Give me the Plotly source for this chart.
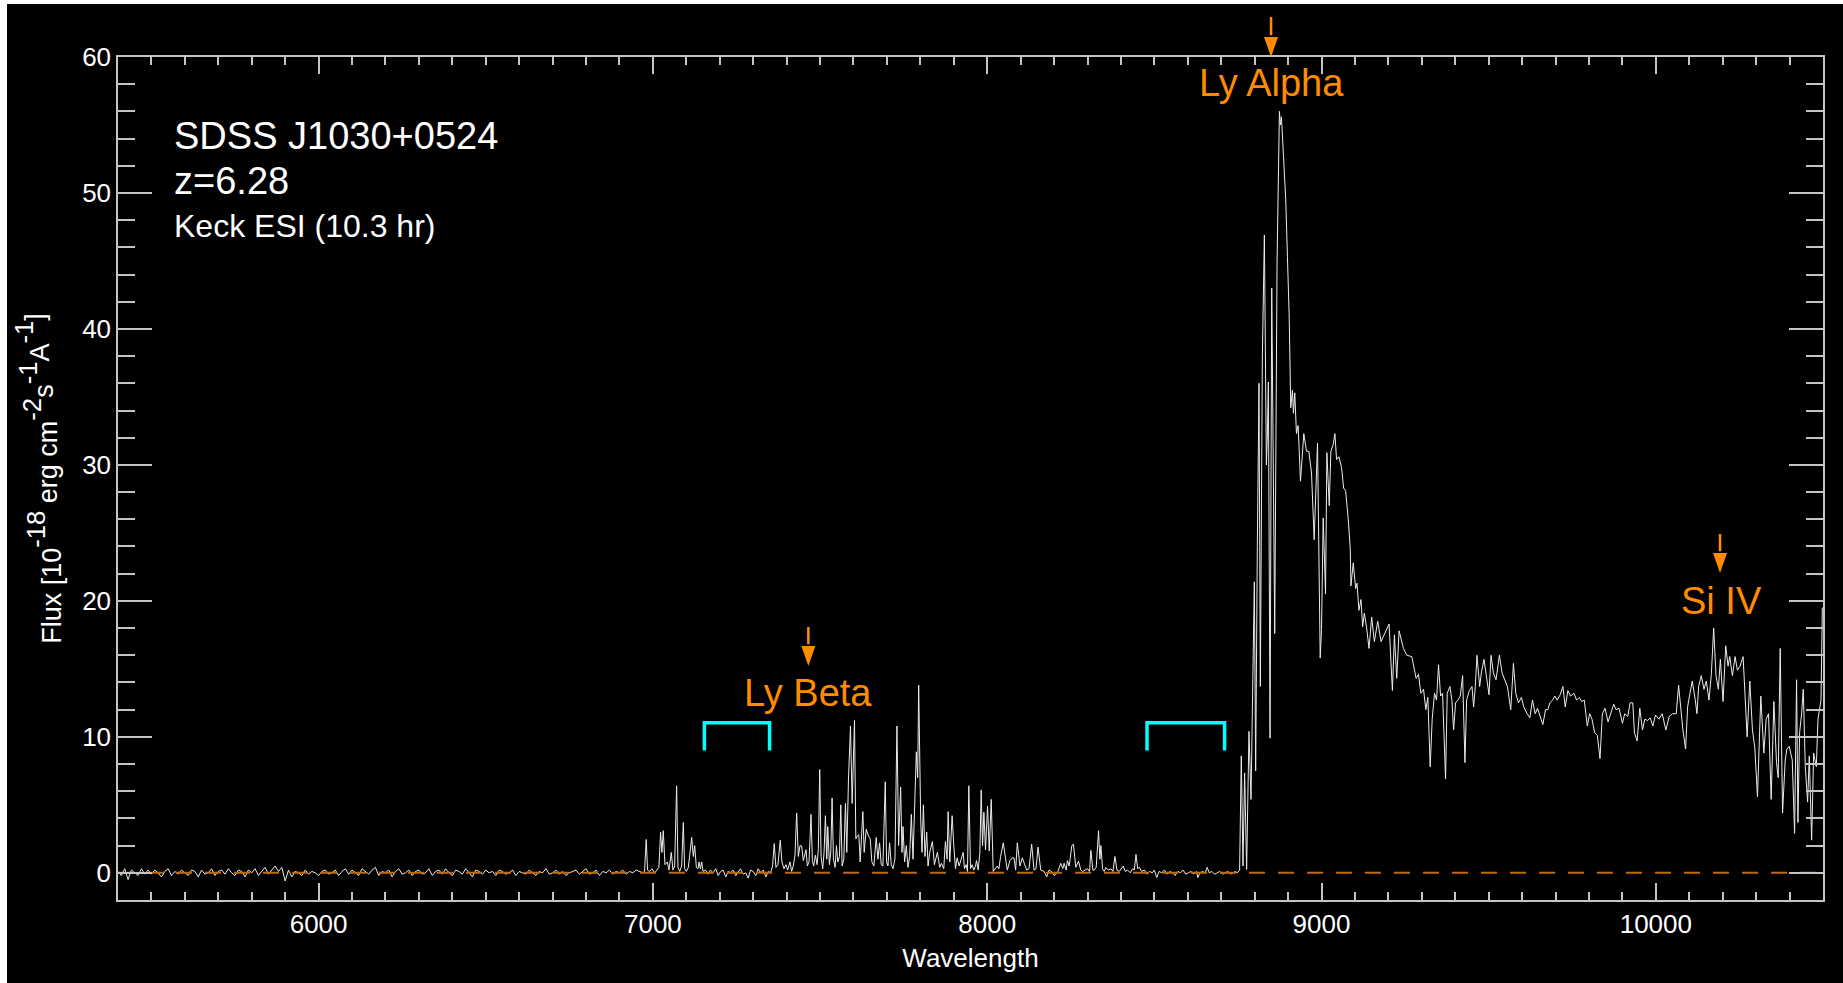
import plotly.graph_objects as go

# ---------------- data ----------------
# blue side (pure noise), 10 A sampling
blue_wave = list(range(5400, 6970, 10))
blue_flux = [
    0.1, -0.2, 0.3, -0.5, 0.2, 0.0, -0.2, 0.3, -0.1, 0.2,
    -0.1, 0.2, 0.0, -0.3, 0.1, 0.3, -0.2, 0.1, -0.1, 0.2,
    0.0, -0.2, 0.2, 0.1, -0.3, 0.2, -0.1, 0.0, 0.3, -0.2,
    0.1, 0.2, -0.1, 0.3, 0.0, -0.2, 0.2, 0.1, -0.3, 0.2,
    0.0, 0.3, -0.2, 0.1, 0.4, -0.1, 0.2, 0.5, 0.1, 0.4,
    -0.6, 0.2, -0.3, 0.1, 0.0, -0.2, 0.2, -0.1, 0.1, 0.0,
    -0.2, 0.1, 0.2, -0.1, 0.0, 0.2, -0.2, 0.1, 0.3, -0.1,
    0.2, 0.0, -0.2, 0.3, 0.1, -0.1, 0.2, 0.4, -0.2, 0.1,
    0.0, 0.2, -0.3, 0.1, 0.3, -0.1, 0.0, 0.2, -0.2, 0.1,
    0.2, -0.1, 0.0, 0.3, -0.2, 0.1, 0.2, -0.1, 0.3, 0.0,
    -0.2, 0.2, 0.1, -0.1, 0.3, 0.0, -0.3, 0.2, 0.1, -0.1,
    0.2, 0.0, 0.1, -0.2, 0.2, 0.1, -0.1, 0.0, 0.2, -0.2,
    0.1, 0.0, -0.1, 0.2, 0.0, -0.2, 0.1, 0.0, 0.3, -0.1,
    0.0, 0.2, -0.1, 0.1, -0.2, 0.0, 0.1, 0.2, -0.1, 0.1,
    0.3, -0.1, 0.0, 0.2, -0.2, 0.1, 0.0, 0.2, -0.1, 0.1,
    0.0, 0.2, -0.1, 0.1, 0.0, 0.2, 0.1,
]

# Lyman-beta / Lyman-alpha forest
forest_wave = [
    6970, 6975, 6980, 6984, 6990, 6997, 7005, 7012, 7018, 7023,
    7027, 7031, 7036, 7043, 7048, 7055, 7060, 7065, 7071, 7075,
    7080, 7086, 7091, 7095, 7100, 7106, 7112, 7116, 7121, 7125,
    7130, 7135, 7138, 7142, 7146, 7150, 7158, 7165, 7172, 7180,
    7188, 7195, 7203, 7210, 7218, 7225, 7232, 7240, 7248, 7255,
    7262, 7270, 7278, 7285, 7292, 7300, 7308, 7315, 7322, 7330,
    7338, 7345, 7352, 7358, 7363, 7368, 7374, 7381, 7386, 7392,
    7398, 7403, 7410, 7415, 7420, 7425, 7430, 7435, 7440, 7445,
    7450, 7458, 7462, 7467, 7473, 7477, 7481, 7486, 7491, 7495,
    7499, 7503, 7508, 7512, 7516, 7520, 7523, 7528, 7532, 7536,
    7540, 7545, 7549, 7553, 7558, 7562, 7566, 7571, 7576, 7580,
    7585, 7591, 7596, 7603, 7607, 7611, 7616, 7620, 7628, 7632,
    7638, 7645, 7650, 7655, 7661, 7668, 7673, 7678, 7683, 7688,
    7695, 7699, 7703, 7708, 7713, 7718, 7724, 7730, 7735, 7741,
    7745, 7748, 7753, 7758, 7763, 7768, 7773, 7778, 7783, 7788,
    7792, 7795, 7801, 7805, 7809, 7814, 7819, 7823, 7828, 7836,
    7842, 7851, 7858, 7863, 7870, 7875, 7880, 7883, 7888, 7895,
    7900, 7905, 7910, 7916, 7922, 7928, 7932, 7937, 7941, 7945,
    7950, 7955, 7960, 7965, 7968, 7973, 7978, 7982, 7986, 7990,
    7995, 8001, 8006, 8012, 8018, 8024, 8030, 8035, 8040, 8048,
    8055, 8060, 8068, 8075, 8080, 8085, 8090, 8098, 8105, 8112,
    8118, 8125, 8133, 8140, 8146, 8152, 8160, 8170, 8178, 8185,
    8192, 8200, 8210, 8220, 8226, 8230, 8236, 8240, 8245, 8248,
    8253, 8258, 8265, 8273, 8280, 8285, 8292, 8300, 8306, 8310,
    8316, 8320, 8326, 8333, 8337, 8340, 8345, 8350, 8355, 8362,
    8370, 8376, 8382, 8388, 8395, 8400, 8407, 8413, 8420, 8428,
    8435, 8440, 8445, 8450, 8455, 8462, 8470, 8478, 8486, 8494,
    8500, 8507, 8514, 8522, 8530, 8538, 8546, 8554, 8562, 8570,
    8578, 8586, 8594, 8602, 8610, 8618, 8626, 8630, 8636, 8644,
    8652, 8658, 8664, 8672, 8680, 8688, 8696, 8704, 8712, 8720,
    8728, 8736, 8742, 8748, 8755,
]
forest_flux = [
    0.0, 0.1, 2.45, 0.2, 0.1, 0.3, 0.0, 0.2, 0.4, 3.0,
    1.5, 3.1, 0.6, 0.8, 0.2, 1.5, 0.2, 0.5, 6.4, 0.4,
    0.1, 0.5, 3.7, 0.3, 0.1, 0.4, 1.5, 2.6, 1.2, 2.0,
    0.4, 0.3, 0.8, 0.3, 0.8, 0.1, 0.2, -0.1, 0.2, 0.0,
    0.3, -0.2, 0.1, 0.2, -0.3, 0.1, 0.0, 0.2, -0.2, 0.1,
    0.3, -0.1, 0.0, -0.4, 0.2, 0.1, -0.2, 0.3, 0.0, 0.2,
    -0.3, 0.1, 0.0, 0.5, 2.15, 0.4, 0.6, 2.4, 0.8, 0.3,
    0.6, 0.2, 0.8, 0.1, 0.5, 1.3, 4.4, 1.2, 2.0, 1.97,
    0.9, 1.7, 0.5, 0.8, 4.3, 0.9, 0.5, 1.3, 0.6, 1.8,
    7.6, 1.2, 0.3, 1.5, 4.2, 1.0, 3.4, 0.6, 1.5, 5.5,
    1.0, 0.4, 2.0, 0.8, 1.2, 5.0, 0.5, 1.0, 5.1, 1.5,
    6.9, 10.8, 5.1, 11.2, 2.5, 2.7, 2.8, 0.8, 4.5, 1.5,
    3.2, 2.7, 2.5, 0.8, 0.5, 2.6, 1.0, 2.2, 0.6, 0.5,
    6.7, 0.8, 0.5, 2.2, 0.6, 0.3, 1.0, 10.8, 2.0, 6.3,
    1.5, 3.4, 0.8, 2.0, 0.4, 1.2, 4.3, 1.0, 5.0, 8.9,
    7.0, 13.8, 3.9, 1.5, 5.0, 1.2, 3.0, 0.5, 1.5, 2.3,
    0.6, 1.5, 0.4, 0.7, 0.3, 2.3, 1.0, 4.5, 0.8, 4.2,
    2.0, 0.3, 1.1, 0.5, 1.0, 1.5, 0.3, 0.6, 0.1, 6.4,
    0.3, 0.6, 0.2, 0.5, 0.9, 0.2, 1.5, 6.1, 2.0, 4.45,
    1.7, 4.9, 1.6, 5.4, 0.1, 0.3, 0.5, 0.3, 1.2, 2.2,
    0.9, 0.2, 0.9, 1.1, 1.1, 0.2, 2.2, 0.5, 1.1, 0.6,
    0.2, 0.3, 2.1, 0.2, 0.3, 1.9, 0.2, 0.1, -0.3, 0.2,
    0.1, -0.2, 0.0, 0.7, 0.3, 0.7, 0.2, 0.9, 0.5, 1.0,
    2.0, 2.1, 0.4, 0.85, 0.2, 0.1, 0.2, 0.3, 0.1, 1.65,
    0.2, 0.2, 0.4, 3.1, 1.0, 2.0, 0.3, 0.1, 0.4, 0.2,
    0.3, 0.1, 1.2, 0.2, 0.1, 0.3, 0.5, 0.1, 0.2, 0.0,
    0.3, 0.2, 1.35, 0.3, 0.4, 0.1, 0.2, -0.1, 0.1, 0.0,
    0.2, -0.35, 0.1, 0.0, 0.2, -0.1, 0.1, 0.0, -0.2, 0.1,
    0.0, 0.2, -0.1, 0.0, 0.1, -0.1, 0.1, -0.35, 0.0, 0.1,
    0.0, 0.4, 0.0, 0.1, -0.1, 0.0, 0.1, -0.1, 0.0, 0.1,
    -0.1, 0.0, 0.1, 0.0, 0.2,
]

# Lyman-alpha emission region
lya_wave = [
    8760, 8765, 8770, 8776, 8783, 8789, 8799, 8803, 8808, 8813,
    8817, 8823, 8829, 8835, 8838, 8841, 8846, 8851, 8860, 8867,
    8874, 8877, 8880, 8884, 8893, 8898, 8903, 8908, 8913, 8916,
    8920, 8925, 8930, 8937, 8947, 8955, 8962, 8970, 8978, 8988,
    8996, 9000, 9005, 9012, 9016, 9023, 9028, 9035, 9040, 9045,
    9052, 9060, 9066, 9072, 9080, 9086, 9088, 9095, 9102, 9106,
    9112, 9118, 9123, 9128, 9135, 9142, 9150, 9158, 9168, 9178,
    9190, 9202, 9212, 9218, 9225, 9232, 9245, 9255, 9270, 9283,
    9290,
]
lya_flux = [
    8.6, 0.5, 7.35, 0.25, 10.4, 5.4, 21.4, 7.5, 24.0, 36.0,
    13.7, 38.0, 46.9, 30.0, 32.2, 36.1, 9.9, 43.0, 17.6, 45.0,
    56.0, 55.0, 55.6, 53.4, 49.5, 45.3, 41.2, 34.2, 35.5, 33.8,
    35.3, 32.3, 32.9, 28.8, 32.3, 31.0, 31.0, 29.4, 24.5, 31.6,
    15.8, 17.9, 26.1, 20.5, 30.9, 27.0, 31.0, 31.5, 32.3, 30.4,
    30.6, 29.8, 28.3, 28.1, 26.0, 23.8, 21.1, 22.8, 20.9, 21.3,
    19.3, 20.1, 18.1, 19.1, 18.0, 16.5, 18.8, 17.0, 18.5, 17.0,
    17.6, 18.3, 13.4, 17.5, 14.3, 17.8, 16.5, 16.0, 15.9, 14.3,
    14.6,
]

# red continuum
red_wave = [
    9297, 9305, 9312, 9318, 9325, 9331, 9338, 9344, 9350, 9356,
    9362, 9371, 9376, 9384, 9390, 9395, 9401, 9408, 9415, 9422,
    9429, 9434, 9442, 9450, 9455, 9460, 9465, 9473, 9478, 9486,
    9492, 9501, 9507, 9514, 9522, 9532, 9540, 9548, 9556, 9566,
    9574, 9581, 9589, 9598, 9605, 9615, 9623, 9631, 9639, 9646,
    9655, 9662, 9670, 9677, 9683, 9691, 9698, 9705, 9714, 9722,
    9729, 9737, 9745, 9755, 9763, 9771, 9778, 9786, 9795, 9802,
    9809, 9817, 9825, 9833, 9840, 9848, 9857, 9864, 9874, 9881,
    9890, 9900, 9907, 9916, 9923, 9931, 9936, 9944, 9952, 9960,
    9967, 9975, 9983, 9991, 9999, 10009, 10019, 10030, 10040, 10050,
    10061, 10068, 10076, 10081, 10089, 10095, 10102, 10109, 10118, 10123,
    10128, 10136, 10144, 10151, 10159, 10166, 10173, 10180, 10187, 10193,
    10201, 10209, 10216, 10221, 10229, 10237, 10244, 10252, 10261, 10268,
    10273, 10281, 10289, 10296, 10304, 10314, 10323, 10330, 10337, 10345,
    10353, 10361, 10366, 10372, 10379, 10387, 10392, 10399, 10408, 10415,
    10421, 10425, 10430, 10436, 10441, 10447, 10454, 10459, 10466, 10472,
    10480, 10485, 10494, 10498,
]
red_flux = [
    13.2, 13.5, 12.0, 12.9, 7.8, 11.3, 13.2, 12.7, 15.3, 13.0,
    13.2, 6.9, 13.2, 13.7, 12.7, 10.5, 12.5, 12.7, 13.0, 14.5,
    8.1, 12.7, 13.4, 13.7, 12.2, 13.7, 16.0, 13.7, 14.7, 15.7,
    14.7, 13.1, 16.0, 14.7, 14.2, 16.0, 14.7, 14.2, 13.7, 12.0,
    15.4, 13.2, 12.5, 12.9, 12.2, 11.7, 11.4, 12.7, 11.7, 12.1,
    11.4, 10.9, 12.0, 12.0, 12.5, 12.7, 13.0, 12.7, 13.1, 13.7,
    12.2, 13.4, 13.0, 13.2, 12.7, 12.9, 12.6, 12.7, 10.8, 11.7,
    11.3, 10.3, 10.1, 8.4, 11.7, 12.1, 11.1, 11.7, 12.4, 12.0,
    12.1, 11.0, 11.7, 11.5, 12.5, 12.5, 10.3, 9.7, 12.1, 10.5,
    11.3, 11.2, 11.4, 10.8, 11.6, 11.3, 11.7, 10.5, 11.5, 11.7,
    11.7, 13.8, 11.7, 10.5, 9.1, 12.2, 13.2, 14.1, 12.7, 11.7,
    13.7, 14.5, 13.5, 14.1, 12.7, 14.6, 18.0, 14.5, 13.5, 15.7,
    12.6, 16.7, 15.2, 15.9, 14.5, 15.9, 14.9, 15.2, 15.9, 12.7,
    10.0, 14.1, 10.5, 9.2, 5.6, 13.0, 8.8, 11.3, 11.7, 5.4,
    12.6, 8.1, 7.0, 16.5, 4.4, 8.3, 9.1, 9.3, 8.3, 2.9,
    14.2, 3.7, 10.3, 11.7, 13.5, 7.8, 5.2, 8.6, 2.4, 8.8,
    7.8, 11.3, 12.7, 19.5,
]

# emission-line markers (observed wavelength, label y in flux units)
line_names = ["Ly Alpha", "Ly Beta", "Si IV"]
line_label_wave = [8850, 7465, 10195]
line_label_flux = [58.1, 13.2, 20.0]
arrow_wave = [8849, 7465, 10192]

# cyan brackets (wavelength ranges)
bracket_start = [7154, 8478]
bracket_end = [7349, 8710]
bracket_low, bracket_high = 9.0, 11.03

info_lines = ["SDSS J1030+0524", "z=6.28", "Keck ESI (10.3 hr)"]

x_range = [5400, 10500]
y_range = [-2, 60]

# ---------------- figure ----------------
wave = blue_wave + forest_wave + lya_wave + red_wave
flux = blue_flux + forest_flux + lya_flux + red_flux

FONT = "Liberation Sans, Arial, Helvetica, sans-serif"
AXC = "#c4c4c4"
ORANGE = "#ff8c00"

fig = go.Figure()
fig.add_trace(go.Scatter(x=wave, y=flux, mode="lines",
                         line=dict(color="#ececec", width=1), hoverinfo="skip",
                         showlegend=False))
fig.add_trace(go.Scatter(x=x_range, y=[0, 0], mode="lines",
                         line=dict(color="#c06b12", width=2, dash="16px,13px"),
                         hoverinfo="skip", showlegend=False))

# plot area in pixels (for paper-coordinate conversions)
L, R, T, B = 118, 20, 57, 83
W, H = 1843, 983
pw, ph = W - L - R, H - T - B

def py2paper(py):
    return (H - B - py) / ph

def px2paper(px):
    return (px - L) / pw

shapes = []
# thin white frame strip at top and left edge of the image
shapes.append(dict(type="rect", xref="paper", yref="paper",
                   x0=px2paper(0), x1=px2paper(W), y0=py2paper(4), y1=py2paper(0),
                   fillcolor="white", line=dict(width=0), layer="above"))
shapes.append(dict(type="rect", xref="paper", yref="paper",
                   x0=px2paper(0), x1=px2paper(7), y0=py2paper(H), y1=py2paper(0),
                   fillcolor="white", line=dict(width=0), layer="above"))

# cyan brackets
for a, b in zip(bracket_start, bracket_end):
    shapes.append(dict(type="path", xref="x", yref="y",
                       path=f"M {a},{bracket_low} L {a},{bracket_high} L {b},{bracket_high} L {b},{bracket_low}",
                       line=dict(color="#00ffff", width=3.5)))

# orange arrows (tail / tip in pixel rows)
arrow_tail_px = [17, 627, 534]
arrow_tip_px = [57, 666, 573]
head_len_px, head_half_px = 20, 7
dx_per_px = (x_range[1] - x_range[0]) / pw
for xw, t, p in zip(arrow_wave, arrow_tail_px, arrow_tip_px):
    base = py2paper(p - head_len_px)
    shapes.append(dict(type="line", xref="x", yref="paper", x0=xw, x1=xw,
                       y0=py2paper(t), y1=base + 0.002,
                       line=dict(color=ORANGE, width=2.5)))
    hw = head_half_px * dx_per_px
    shapes.append(dict(type="path", xref="x", yref="paper",
                       path=f"M {xw - hw},{base} L {xw + hw},{base} L {xw},{py2paper(p)} Z",
                       fillcolor=ORANGE, line=dict(width=0)))

annotations = []
for name, xw, yf in zip(line_names, line_label_wave, line_label_flux):
    annotations.append(dict(x=xw, y=yf, xref="x", yref="y", text=name, showarrow=False,
                            xanchor="center", yanchor="middle",
                            font=dict(family=FONT, size=38, color=ORANGE)))

info_y_px = [136, 181, 226]
info_size = [38, 38, 32]
for txt, ypx, sz in zip(info_lines, info_y_px, info_size):
    annotations.append(dict(x=px2paper(172), y=py2paper(ypx), xref="paper", yref="paper",
                            text=txt, showarrow=False, xanchor="left", yanchor="middle",
                            font=dict(family=FONT, size=sz, color="white")))

axis_common = dict(showline=True, linecolor=AXC, linewidth=1.5, mirror="ticks",
                   ticks="inside", tickcolor=AXC, tickwidth=1.5,
                   showgrid=False, zeroline=False,
                   tickfont=dict(family=FONT, size=26, color="white"))

SUP = '<sup style="font-size:95% !important">'
ytitle = (f"Flux [10{SUP}-18</sup> erg cm{SUP}-2</sup>s{SUP}-1</sup>"
          f"A{SUP}-1</sup>]")

fig.update_layout(
    width=W, height=H,
    margin=dict(l=L, r=R, t=T, b=B, autoexpand=False),
    paper_bgcolor="black", plot_bgcolor="black",
    showlegend=False,
    shapes=shapes, annotations=annotations,
    xaxis=dict(range=x_range, dtick=1000, tick0=0, ticklen=17, tickformat="d",
               minor=dict(ticks="inside", dtick=100, ticklen=8, tickcolor=AXC, tickwidth=1.5,
                          showgrid=False),
               title=dict(text="Wavelength", font=dict(family=FONT, size=26, color="white"),
                          standoff=11),
               **axis_common),
    yaxis=dict(range=y_range, dtick=10, tick0=0, ticklen=34,
               minor=dict(ticks="inside", dtick=2, ticklen=17, tickcolor=AXC, tickwidth=1.5,
                          showgrid=False),
               title=dict(text=ytitle,
                          font=dict(family=FONT, size=27, color="white"), standoff=13),
               **axis_common),
)

fig.write_html("out.html")
